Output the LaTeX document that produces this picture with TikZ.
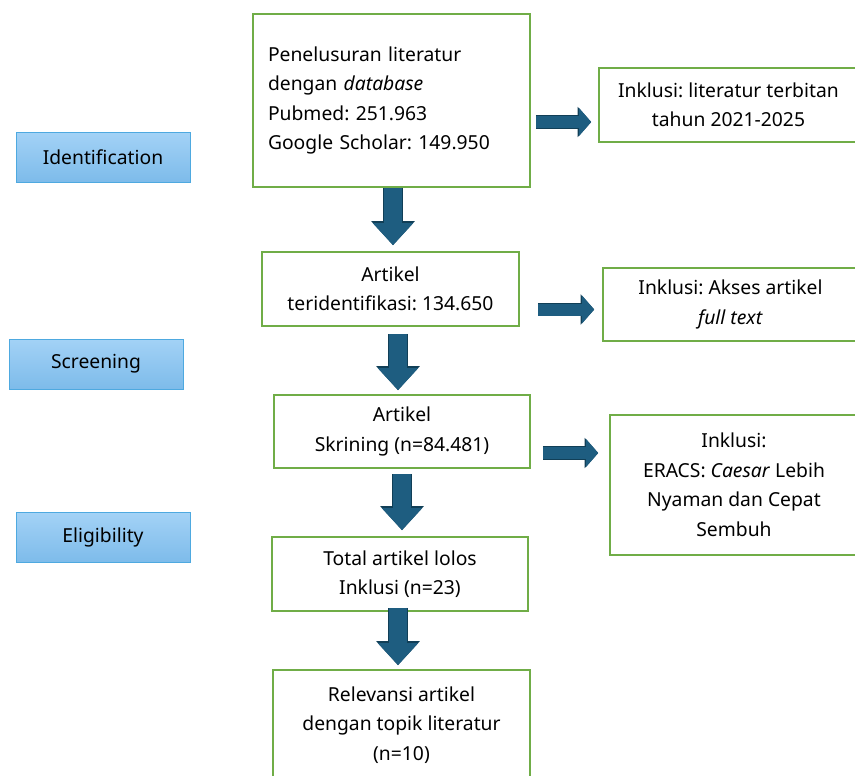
\documentclass[tikz,border=0pt]{standalone}
\usepackage{fontspec}
\setmainfont{Noto Sans}
\frenchspacing
\usetikzlibrary{arrows.meta}
\definecolor{boxgreen}{HTML}{70AD47}
\definecolor{stagetop}{HTML}{A3D2F6}
\definecolor{stagebot}{HTML}{7DBBEA}
\definecolor{stageline}{HTML}{4EA9E0}
\definecolor{arrowfill}{HTML}{1E5D80}
\definecolor{arrowline}{HTML}{113F57}
\tikzset{
  flowbox/.style={draw=boxgreen, line width=1.6pt, fill=white, align=center,
    inner sep=0pt, font=\fontsize{19.3}{29.5}\selectfont},
  stagebox/.style={draw=stageline, line width=1pt, top color=stagetop,
    bottom color=stagebot, minimum width=174pt, minimum height=50pt,
    font=\fontsize{19.3}{22}\selectfont},
  downarrow/.style={arrowfill, line width=18pt, -{Triangle[length=22pt,width=39pt]},
    preaction={draw=arrowline, line width=19.6pt, -{Triangle[length=24pt,width=42pt]}}},
  sidearrow/.style={arrowfill, line width=12pt, -{Triangle[length=12pt,width=27pt]},
    preaction={draw=arrowline, line width=13.4pt, -{Triangle[length=13.5pt,width=29.5pt]}}}
}
\begin{document}
\begin{tikzpicture}[x=1pt, y=-1pt]
  \useasboundingbox (0,0) rectangle (855,776);
  % main flow
  \node[flowbox, minimum width=277pt, minimum height=173pt, text width=247pt, align=left]
    (b1) at (391.5,100.5) {Penelusuran literatur\\ dengan \emph{database}\\ Pubmed: 251.963\\ Google Scholar: 149.950};
  \node[flowbox, minimum width=257pt, minimum height=74pt] (b2) at (390.5,289)
    {Artikel\\ teridentifikasi: 134.650};
  \node[flowbox, minimum width=256pt, minimum height=73pt] (b3) at (402,431.5)
    {Artikel\\ Skrining (n=84.481)};
  \node[flowbox, minimum width=256pt, minimum height=74pt] (b4) at (400,574)
    {Total artikel lolos\\ Inklusi (n=23)};
  \node[flowbox, minimum width=257pt, minimum height=110pt] (b5) at (401.5,725)
    {Relevansi artikel\\ dengan topik literatur\\ (n=10)};
  % inclusion boxes
  \node[flowbox, minimum width=259pt, minimum height=74pt] (r1) at (728.5,105)
    {Inklusi: literatur terbitan\\ tahun 2021-2025};
  \node[flowbox, minimum width=255pt, minimum height=73pt] (r2) at (730.5,304.5)
    {Inklusi: Akses artikel\\ \emph{full text}};
  \node[flowbox, minimum width=248pt, minimum height=140pt] (r3) at (734,485)
    {Inklusi:\\ ERACS: \emph{Caesar} Lebih\\ Nyaman dan Cepat\\ Sembuh};
  % stages
  \node[stagebox] (s1) at (103,157) {Identification};
  \node[stagebox] (s2) at (96,364) {Screening};
  \node[stagebox] (s3) at (103,537.5) {Eligibility};
  % arrows
  \draw[downarrow, shorten >=6pt] ([xshift=1.5pt]b1.south) -- ([xshift=1.5pt]b1.south |- b2.north);
  \draw[downarrow, shorten <=7pt, shorten >=4pt] ([xshift=7.5pt]b2.south) -- ([xshift=7.5pt]b2.south |- b3.north);
  \draw[downarrow, shorten <=5pt, shorten >=6pt] (b3.south) -- (b3.south |- b4.north);
  \draw[downarrow, shorten <=-4pt, shorten >=4pt] ([xshift=-2pt]b4.south) -- ([xshift=-2pt]b4.south |- b5.north);
  \draw[sidearrow, shorten <=5pt, shorten >=7pt] ([yshift=-21.5pt]b1.east) -- ([yshift=-21.5pt]b1.east -| r1.west);
  \draw[sidearrow, shorten <=18pt, shorten >=8pt] ([yshift=-20.5pt]b2.east) -- ([yshift=-20.5pt]b2.east -| r2.west);
  \draw[sidearrow, shorten <=12pt, shorten >=11pt] ([yshift=-21.5pt]b3.east) -- ([yshift=-21.5pt]b3.east -| r3.west);
\end{tikzpicture}
\end{document}
